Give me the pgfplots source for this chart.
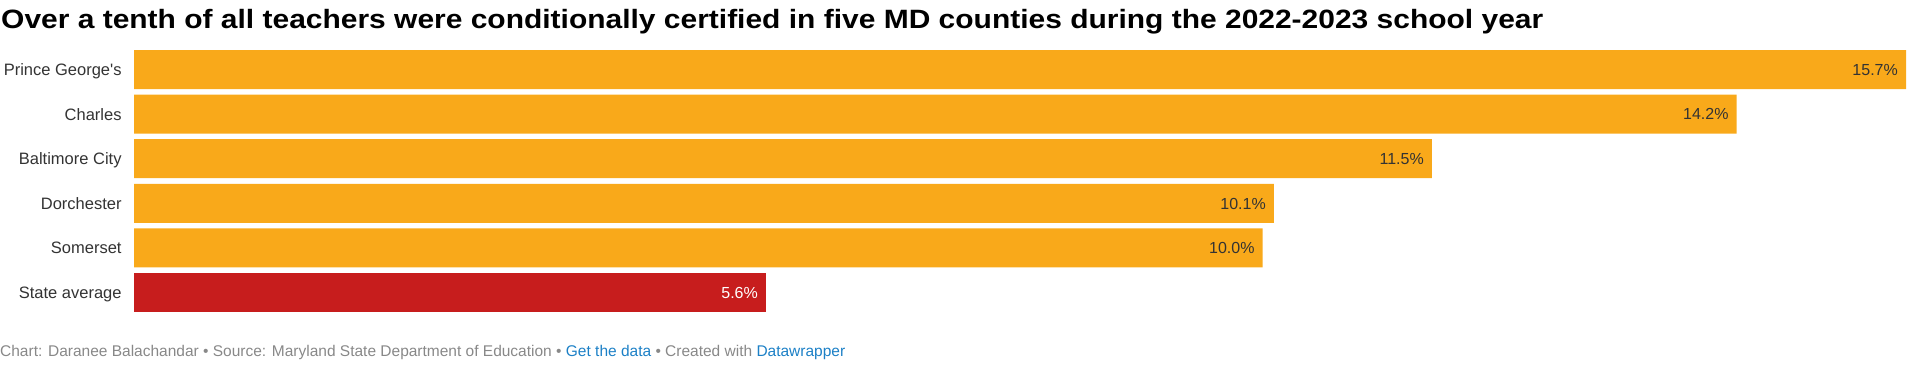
\documentclass[border=0pt]{standalone}
\usepackage{pgfplots}
\pgfplotsset{compat=1.18}
\usepackage{fontspec}
\setmainfont{Liberation Sans}
\definecolor{barorange}{HTML}{F9A91A}
\definecolor{barred}{HTML}{C71D1D}
\definecolor{labelgray}{HTML}{333333}
\definecolor{footgray}{HTML}{888888}
\definecolor{linkblue}{HTML}{1C80C6}
\begin{document}
\begin{tikzpicture}[x=1bp,y=1bp]
\useasboundingbox (0,0) rectangle (1920,369);
\node[anchor=base west, inner sep=0pt] at (1,341) {\resizebox{1542bp}{\height}{\fontsize{26.5bp}{30bp}\selectfont\bfseries Over a tenth of all teachers were conditionally certified in five MD counties during the 2022-2023 school year}};
\begin{axis}[
  at={(134bp,54.2bp)}, anchor=south west,
  scale only axis, width=1772bp, height=267.6bp,
  xmin=0, xmax=15.7,
  ymin=-0.5, ymax=5.5, y dir=reverse,
  xbar, bar width=39bp, bar shift=0pt,
  axis line style={draw=none}, tick style={draw=none},
  xtick=\empty,
  ytick={0,1,2,3,4,5},
  yticklabels={Prince George\textquotesingle s, Charles, Baltimore City, Dorchester, Somerset, State average},
  yticklabel style={font=\fontsize{16.5bp}{18bp}\selectfont, text=labelgray, inner sep=0pt, xshift=-8bp, anchor=base east, yshift=-5.9bp},
  clip=false,
  point meta=explicit symbolic,
  nodes near coords,
  nodes near coords style={anchor=base east, inner sep=0pt, xshift=-8bp, yshift=-5.7bp, font=\fontsize{16bp}{18bp}\selectfont, text=labelgray},
]
\addplot[fill=barorange, draw=none, bar shift=0pt] coordinates {(15.7,0) [15.7\%] (14.2,1) [14.2\%] (11.5,2) [11.5\%] (10.1,3) [10.1\%] (10.0,4) [10.0\%]};
\addplot[fill=barred, draw=none, bar shift=0pt, nodes near coords style={text=white}] coordinates {(5.6,5) [5.6\%]};
\end{axis}
\node[anchor=base west, inner sep=0pt] at (0,12.5) {\resizebox{845bp}{\height}{\fontsize{15.5bp}{18bp}\selectfont\color{footgray}Chart: Daranee Balachandar • Source: Maryland State Department of Education • \textcolor{linkblue}{Get the data} • Created with \textcolor{linkblue}{Datawrapper}}};
\end{tikzpicture}
\end{document}
